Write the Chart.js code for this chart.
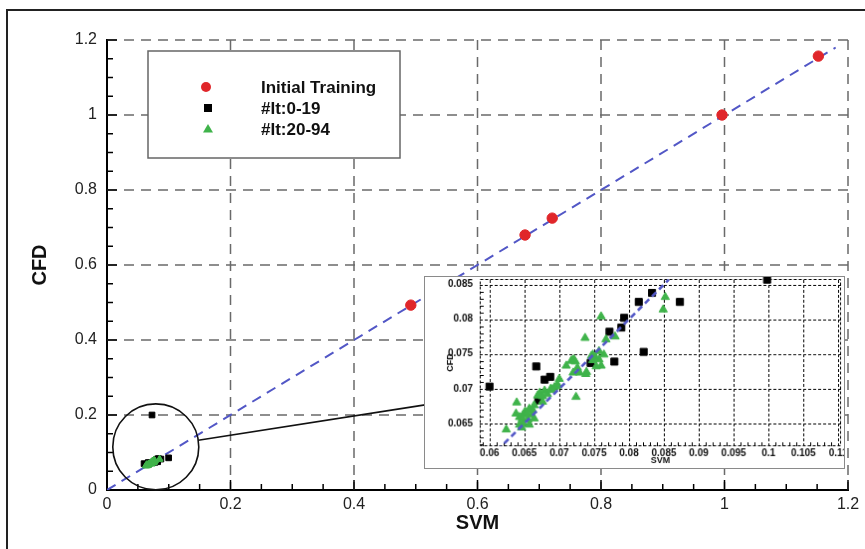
<!DOCTYPE html>
<html><head><meta charset="utf-8">
<script src="https://cdn.jsdelivr.net/npm/chart.js@4.4.0/dist/chart.umd.min.js"></script>
<style>
html,body{margin:0;padding:0;background:#fff;}
#wrap{position:relative;width:865px;height:549px;overflow:hidden;background:#fff;}
#main{position:absolute;left:0;top:0;}
#inset{position:absolute;left:424px;top:276px;border:1px solid #8a8a8a;background:#fff;}
</style></head>
<body>
<div id="wrap">
<canvas id="main" width="865" height="549" style="width:865px;height:549px"></canvas>
<canvas id="inset" width="421" height="193" style="width:421px;height:193px"></canvas>
</div>
<script>
// ---------------- data ----------------
const mainTicks = [0, 0.2, 0.4, 0.6, 0.8, 1, 1.2];
const mainTickLabels = ['0', '0.2', '0.4', '0.6', '0.8', '1', '1.2'];
const insetXTicks = [0.06, 0.065, 0.07, 0.075, 0.08, 0.085, 0.09, 0.095, 0.1, 0.105, 0.11];
const insetXLabels = ['0.06', '0.065', '0.07', '0.075', '0.08', '0.085', '0.09', '0.095', '0.1', '0.105', '0.11'];
const insetYTicks = [0.065, 0.07, 0.075, 0.08, 0.085];
const insetYLabels = ['0.065', '0.07', '0.075', '0.08', '0.085'];

const seriesNames = ['Initial Training', '#It:0-19', '#It:20-94'];

const trainSVM = [0.492, 0.677, 0.721, 0.996, 1.152];
const trainCFD = [0.493, 0.680, 0.725, 1.000, 1.157];

const it0SVM = [0.0600, 0.0667, 0.0679, 0.0687, 0.0670, 0.0745, 0.0779, 0.0772, 0.0789, 0.0793, 0.0814, 0.0833, 0.0873, 0.0821, 0.0998, 0.0729];
const it0CFD = [0.0703, 0.0732, 0.0713, 0.0717, 0.0683, 0.0737, 0.0739, 0.0782, 0.0788, 0.0802, 0.0825, 0.0838, 0.0825, 0.0753, 0.0857, 0.2000];

const it20SVM = [0.0624, 0.0639, 0.0638, 0.0643, 0.0648, 0.0646, 0.0651, 0.0655, 0.0660, 0.0664,
                 0.0662, 0.0669, 0.0672, 0.0679, 0.0676, 0.0683, 0.0688, 0.0693, 0.0700, 0.0698,
                 0.0710, 0.0717, 0.0721, 0.0724, 0.0720, 0.0729, 0.0738, 0.0737, 0.0748, 0.0752,
                 0.0757, 0.0760, 0.0764, 0.0760, 0.0767, 0.0780, 0.0852, 0.0849, 0.0726, 0.0748,
                 0.0657, 0.0648, 0.0723, 0.0719, 0.0746, 0.0757, 0.0753, 0.0739, 0.0690, 0.0676,
                 0.0664, 0.0653, 0.0647, 0.0643, 0.0696, 0.0657];
const it20CFD = [0.0641, 0.0680, 0.0664, 0.0659, 0.0662, 0.0644, 0.0667, 0.0655, 0.0662, 0.0657,
                 0.0669, 0.0690, 0.0694, 0.0697, 0.0681, 0.0692, 0.0700, 0.0702, 0.0714, 0.0705,
                 0.0733, 0.0740, 0.0742, 0.0688, 0.0723, 0.0723, 0.0721, 0.0773, 0.0741, 0.0745,
                 0.0754, 0.0733, 0.0749, 0.0804, 0.0771, 0.0775, 0.0832, 0.0814, 0.0730, 0.0749,
                 0.0648, 0.0650, 0.0739, 0.0741, 0.0747, 0.0742, 0.0732, 0.0724, 0.0698, 0.0689,
                 0.0676, 0.0664, 0.0657, 0.0648, 0.0704, 0.0671];

const mainDiag = [0, 1.18];
const insetDiag = [0.0611, 0.0857];

// zoom-circle annotation (data coords of the main chart)
const zoomCenter = [0.079, 0.115];
const connectorEnd = [0.515, 0.227];

// ---------------- helpers ----------------
const pts = (xs, ys) => xs.map((v, i) => ({x: v, y: ys[i]}));
const RED = '#e0262a', BLACK = '#000000', GREEN = '#3fb34a', BLUE = '#5257c6';
const FONT = "'Liberation Sans', Arial, sans-serif";

function setTicks(arr) { return s => { s.ticks = arr.map(v => ({value: v})); }; }
function fixSize(prop, val) {
  return s => { s[prop] = val; s.paddingTop = 0; s.paddingBottom = 0; s.paddingLeft = 0; s.paddingRight = 0; };
}

// ---------------- main chart ----------------
const mainDecor = {
  id: 'mainDecor',
  beforeDatasetsDraw(chart) {
    const {ctx, chartArea: a, scales: {x, y}} = chart;
    ctx.save();
    ctx.strokeStyle = '#6a6a6a'; ctx.lineWidth = 1.5; ctx.setLineDash([10, 7]);
    mainTicks.forEach(v => {
      if (v === 0) return;
      const px = x.getPixelForValue(v);
      ctx.beginPath(); ctx.moveTo(px, a.top); ctx.lineTo(px, a.bottom); ctx.stroke();
      const py = y.getPixelForValue(v);
      ctx.beginPath(); ctx.moveTo(a.right, py); ctx.lineTo(a.left, py); ctx.stroke();
    });
    // inward ticks
    ctx.setLineDash([]); ctx.strokeStyle = '#000'; ctx.lineWidth = 1.5;
    for (let i = 0; i < mainTicks.length; i++) {
      const v = mainTicks[i];
      const px = x.getPixelForValue(v), py = y.getPixelForValue(v);
      ctx.beginPath(); ctx.moveTo(px, a.bottom); ctx.lineTo(px, a.bottom - 10); ctx.stroke();
      ctx.beginPath(); ctx.moveTo(a.left, py); ctx.lineTo(a.left + 10, py); ctx.stroke();
      if (i < mainTicks.length - 1) {
        const step = (mainTicks[i + 1] - v) / 4;
        for (let k = 1; k < 4; k++) {
          const mx = x.getPixelForValue(v + k * step), my = y.getPixelForValue(v + k * step);
          ctx.beginPath(); ctx.moveTo(mx, a.bottom); ctx.lineTo(mx, a.bottom - 6); ctx.stroke();
          ctx.beginPath(); ctx.moveTo(a.left, my); ctx.lineTo(a.left + 6, my); ctx.stroke();
        }
      }
    }
    ctx.restore();
  },
  afterDatasetsDraw(chart) {
    const {ctx, scales: {x, y}} = chart;
    ctx.save();
    // zoom circle + connector
    const cx = x.getPixelForValue(zoomCenter[0]), cy = y.getPixelForValue(zoomCenter[1]);
    const r = 43;
    const ex = x.getPixelForValue(connectorEnd[0]), ey = y.getPixelForValue(connectorEnd[1]);
    ctx.strokeStyle = '#111'; ctx.lineWidth = 1.6;
    ctx.beginPath(); ctx.arc(cx, cy, r, 0, Math.PI * 2); ctx.stroke();
    const ang = Math.atan2(ey - cy, ex - cx);
    ctx.beginPath(); ctx.moveTo(cx + r * Math.cos(ang), cy + r * Math.sin(ang)); ctx.lineTo(ex, ey); ctx.stroke();

    // legend box
    ctx.fillStyle = '#fff'; ctx.fillRect(148, 51, 252, 107);
    ctx.strokeStyle = '#666'; ctx.lineWidth = 1.5; ctx.strokeRect(148, 51, 252, 107);
    const rows = [87, 108, 129];
    const ds = chart.data.datasets;
    ctx.fillStyle = ds[0].backgroundColor;
    ctx.beginPath(); ctx.arc(206, rows[0], 5, 0, Math.PI * 2); ctx.fill();
    ctx.fillStyle = ds[1].backgroundColor; ctx.fillRect(204, rows[1] - 4, 8, 8);
    ctx.fillStyle = ds[2].backgroundColor;
    ctx.beginPath(); ctx.moveTo(208, rows[2] - 5); ctx.lineTo(213, rows[2] + 3.5); ctx.lineTo(203, rows[2] + 3.5); ctx.closePath(); ctx.fill();
    ctx.fillStyle = '#111'; ctx.font = 'bold 17px ' + FONT; ctx.textBaseline = 'middle'; ctx.textAlign = 'left';
    rows.forEach((ry, i) => ctx.fillText(ds[i].label, 261, ry + 1));

    // outer frame
    ctx.strokeStyle = '#222'; ctx.lineWidth = 2;
    ctx.beginPath(); ctx.moveTo(7, 549); ctx.lineTo(7, 10); ctx.lineTo(865, 10); ctx.stroke();
    ctx.restore();
  }
};

new Chart(document.getElementById('main'), {
  type: 'scatter',
  data: {
    datasets: [
      {label: seriesNames[0], data: pts(trainSVM, trainCFD), backgroundColor: RED, borderColor: RED, pointRadius: 5.2, pointStyle: 'circle', order: 0},
      {label: seriesNames[1], data: pts(it0SVM, it0CFD), backgroundColor: BLACK, borderColor: BLACK, pointRadius: 4, pointStyle: 'rect', order: 2},
      {label: seriesNames[2], data: pts(it20SVM, it20CFD), backgroundColor: GREEN, borderColor: GREEN, pointRadius: 3.8, pointStyle: 'triangle', order: 1},
      {type: 'line', label: 'diag', data: pts(mainDiag, mainDiag), borderColor: BLUE, borderWidth: 2, borderDash: [10, 7], pointRadius: 0, fill: false, order: 3}
    ]
  },
  options: {
    responsive: false, animation: false, events: [],
    layout: {autoPadding: false, padding: {left: 0, right: 17, top: 40, bottom: 0}},
    plugins: {legend: {display: false}, tooltip: {enabled: false}},
    scales: {
      x: {
        type: 'linear', min: 0, max: 1.2,
        afterBuildTicks: setTicks(mainTicks),
        afterFit: fixSize('height', 59),
        grid: {display: false, drawTicks: false},
        border: {display: true, color: '#000', width: 2},
        ticks: {color: '#222', font: {family: FONT, size: 16}, padding: 5, maxRotation: 0, autoSkip: false,
                callback: (v, i) => mainTickLabels[i]},
        title: {display: true, text: 'SVM', color: '#111', font: {family: FONT, size: 20, weight: 'bold'}, padding: {top: 0, bottom: 14}}
      },
      y: {
        type: 'linear', min: 0, max: 1.2,
        afterBuildTicks: setTicks(mainTicks),
        afterFit: fixSize('width', 107),
        grid: {display: false, drawTicks: false},
        border: {display: true, color: '#000', width: 2},
        ticks: {color: '#222', font: {family: FONT, size: 16}, padding: 10, autoSkip: false,
                callback: (v, i) => mainTickLabels[i]},
        title: {display: true, text: 'CFD', color: '#111', font: {family: FONT, size: 20, weight: 'bold'}, padding: {top: 28, bottom: 0}}
      }
    }
  },
  plugins: [mainDecor]
});

// ---------------- inset chart ----------------
const insetDecor = {
  id: 'insetDecor',
  beforeDatasetsDraw(chart) {
    const {ctx, chartArea: a, scales: {x, y}} = chart;
    ctx.save();
    ctx.strokeStyle = '#000'; ctx.lineWidth = 1; ctx.setLineDash([3, 2]);
    insetXTicks.forEach(v => {
      const px = Math.round(x.getPixelForValue(v)) + 0.5;
      if (px > a.right) return;
      ctx.beginPath(); ctx.moveTo(px, a.bottom); ctx.lineTo(px, a.top); ctx.stroke();
    });
    insetYTicks.forEach(v => {
      const py = Math.round(y.getPixelForValue(v)) + 0.5;
      ctx.beginPath(); ctx.moveTo(a.left, py); ctx.lineTo(a.right, py); ctx.stroke();
    });
    ctx.strokeRect(Math.round(a.left) + 0.5, Math.round(a.top) + 0.5, Math.round(a.width) - 1, Math.round(a.height) - 1);
    // minor ticks
    ctx.setLineDash([]); ctx.lineWidth = 1;
    const minor = (ticks, cb) => {
      for (let i = 0; i < ticks.length - 1; i++) {
        const st = (ticks[i + 1] - ticks[i]) / 5;
        for (let k = 1; k < 5; k++) cb(ticks[i] + k * st);
      }
      const st = (ticks[1] - ticks[0]) / 5;
      for (let k = 1; k < 5; k++) cb(ticks[0] - k * st);
    };
    minor(insetYTicks, v => {
      const py = Math.round(y.getPixelForValue(v)) + 0.5;
      if (py > a.bottom || py < a.top) return;
      ctx.beginPath(); ctx.moveTo(a.left, py); ctx.lineTo(a.left + 4, py); ctx.stroke();
    });
    minor(insetXTicks, v => {
      const px = Math.round(x.getPixelForValue(v)) + 0.5;
      if (px < a.left || px > a.right) return;
      ctx.beginPath(); ctx.moveTo(px, a.bottom); ctx.lineTo(px, a.bottom - 4); ctx.stroke();
    });
    ctx.restore();
  }
};

new Chart(document.getElementById('inset'), {
  type: 'scatter',
  data: {
    datasets: [
      {label: seriesNames[1], data: pts(it0SVM, it0CFD), backgroundColor: BLACK, borderColor: BLACK, pointRadius: 5, pointStyle: 'rect', order: 2,
       clip: {left: 1, right: 1, top: 2, bottom: 1}},
      {label: seriesNames[2], data: pts(it20SVM, it20CFD), backgroundColor: GREEN, borderColor: GREEN, pointRadius: 4.8, pointStyle: 'triangle', order: 1,
       clip: {left: 1, right: 1, top: 2, bottom: 1}},
      {type: 'line', label: 'diag', data: pts(insetDiag, insetDiag), borderColor: BLUE, borderWidth: 2.6, borderDash: [6, 4], pointRadius: 0, fill: false, order: 0}
    ]
  },
  options: {
    responsive: false, animation: false, events: [],
    layout: {autoPadding: false, padding: {left: 0, right: 3, top: 2, bottom: 0}},
    plugins: {legend: {display: false}, tooltip: {enabled: false}},
    scales: {
      x: {
        type: 'linear', min: 0.0586, max: 0.1104,
        afterBuildTicks: setTicks(insetXTicks),
        afterFit: fixSize('height', 22),
        grid: {display: false, drawTicks: false},
        border: {display: false},
        ticks: {color: '#111', font: {family: FONT, size: 10, weight: 'bold'}, padding: 1, maxRotation: 0, autoSkip: false,
                callback: (v, i) => insetXLabels[i]},
        title: {display: true, text: 'SVM', color: '#111', font: {family: FONT, size: 9, weight: 'bold'}, padding: {top: 0, bottom: 2}}
      },
      y: {
        type: 'linear', min: 0.0617, max: 0.0858,
        afterBuildTicks: setTicks(insetYTicks),
        afterFit: fixSize('width', 55),
        grid: {display: false, drawTicks: false},
        border: {display: false},
        ticks: {color: '#111', font: {family: FONT, size: 10, weight: 'bold'}, padding: 7, autoSkip: false,
                callback: (v, i) => insetYLabels[i]},
        title: {display: true, text: 'CFD', color: '#111', font: {family: FONT, size: 9, weight: 'bold'}, padding: {top: 20, bottom: 0}}
      }
    }
  },
  plugins: [insetDecor]
});
</script>
</body></html>
